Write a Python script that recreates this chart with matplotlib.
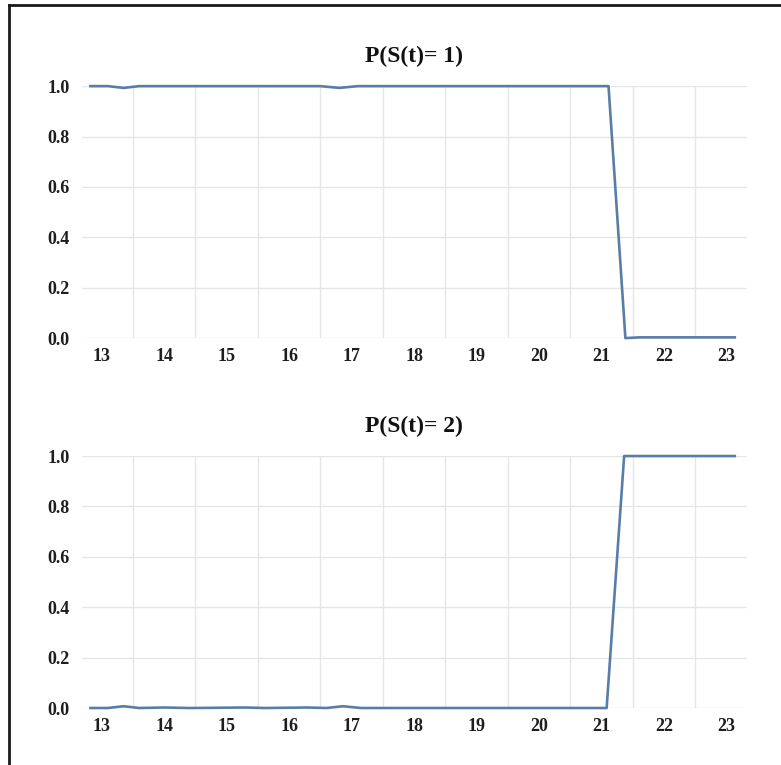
import matplotlib
matplotlib.use("Agg")
import matplotlib.pyplot as plt
from matplotlib.lines import Line2D

# time axis and state probabilities
t_s1 = [12.82, 13.1, 13.35, 13.6, 14.0, 15.0, 16.0, 16.5, 16.8, 17.1, 18.0,
        19.0, 20.0, 21.11, 21.38, 21.6, 22.0, 23.0, 23.13]
p_s1 = [1.0, 1.0, 0.993, 1.0, 1.0, 1.0, 1.0, 1.0, 0.993, 1.0, 1.0,
        1.0, 1.0, 1.0, 0.0, 0.003, 0.003, 0.003, 0.003]

t_s2 = [12.82, 13.1, 13.35, 13.6, 14.0, 14.4, 15.3, 15.6, 16.3, 16.6, 16.86,
        17.15, 18.0, 19.0, 20.0, 21.08, 21.36, 21.6, 22.0, 23.0, 23.13]
p_s2 = [0.0, 0.0, 0.007, 0.0, 0.002, 0.0, 0.002, 0.0, 0.002, 0.0, 0.007,
        0.0, 0.0, 0.0, 0.0, 0.0, 1.0, 1.0, 1.0, 1.0, 1.0]

titles = ["P(S(t)= 1)", "P(S(t)= 2)"]
x_ticks = list(range(13, 24))
y_ticks = [0.0, 0.2, 0.4, 0.6, 0.8, 1.0]
x_grid = [k + 0.5 for k in range(13, 23)]

plt.rcParams['font.family'] = ['Liberation Serif', 'DejaVu Serif']
plt.rcParams['font.weight'] = 'bold'

fig = plt.figure(figsize=(7.81, 7.65), dpi=100)
line_color = "#5a7da6"

series = [(t_s1, p_s1), (t_s2, p_s2)]
bottoms = [0.558, 0.0745]
for (tt, pp), title, b in zip(series, titles, bottoms):
    ax = fig.add_axes([0.105, b, 0.851, 0.3294])
    for g in x_grid:
        ax.axvline(g, color="#e6e6e6", lw=1, zorder=0)
    for g in y_ticks:
        ax.axhline(g, color="#e6e6e6", lw=1, zorder=0)
    ax.plot(tt, pp, color=line_color, lw=1.9, clip_on=False, zorder=3)
    ax.set_xlim(12.685, 23.32)
    ax.set_ylim(0, 1)
    ax.set_xticks(x_ticks)
    ax.set_xticklabels([str(v) for v in x_ticks])
    ax.set_yticks(y_ticks)
    ax.set_yticklabels([f"{v:.1f}" for v in y_ticks])
    ax.tick_params(length=0, labelsize=13, colors="#1e1e1e")
    ax.tick_params(axis='x', pad=7)
    ax.tick_params(axis='y', pad=9)
    for s in ax.spines.values():
        s.set_visible(False)
    ax.set_title(title, fontsize=17, fontweight='bold', pad=17, color="#111111")

# frame around the figure (only top and left edges show)
fig.add_artist(Line2D([9 / 781, 9 / 781], [0, 1 - 5 / 765], transform=fig.transFigure,
                      color="#1a1a1a", lw=2))
fig.add_artist(Line2D([9 / 781, 1], [1 - 5 / 765, 1 - 5 / 765], transform=fig.transFigure,
                      color="#1a1a1a", lw=2))

fig.savefig("out.png", dpi=100)
